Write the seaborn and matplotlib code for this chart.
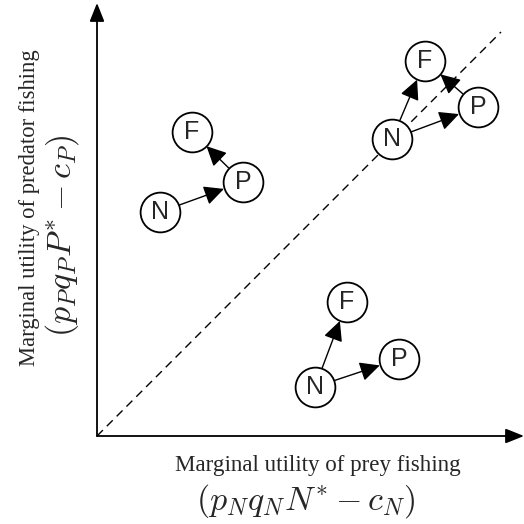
import matplotlib
matplotlib.use("Agg")
import matplotlib.pyplot as plt
import seaborn as sns
import pandas as pd

sns.set_theme(style="white")
plt.rcParams['font.family'] = ['Liberation Serif', 'DejaVu Serif']
plt.rcParams['mathtext.fontset'] = 'cm'

# Node positions (in marginal-utility units; origin at axis corner)
node_labels = ["N", "P", "F", "N", "P", "F", "N", "P", "F"]
node_group = ["A", "A", "A", "B", "B", "B", "C", "C", "C"]
node_x = [63, 146, 95, 295, 381, 328, 218, 302, 250]
node_y = [224, 254, 304, 297, 329, 375, 49, 77, 134]

# Directed edges (by node index)
edge_from = [0, 1, 3, 3, 4, 6, 6]
edge_to = [1, 2, 5, 4, 5, 8, 7]

# diagonal reference line
diag_x = [0, 404]
diag_y = [0, 404]

x_label = "Marginal utility of prey fishing"
x_math = r"$(p_Nq_NN^{*}-c_N)$"
y_label = "Marginal utility of predator fishing"
y_math = r"$(p_Pq_PP^{*}-c_P)$"

nodes = pd.DataFrame({"x": node_x, "y": node_y, "label": node_labels, "group": node_group})

fig = plt.figure(figsize=(5.24, 5.24), dpi=100)
ax = fig.add_axes([0, 0, 1, 1])
ax.set_xlim(-97, 427)
ax.set_ylim(-88, 436)
ax.axis("off")

# dashed diagonal
sns.lineplot(x=diag_x, y=diag_y, ax=ax, color="black", lw=1.0,
             linestyle=(0, (6, 4)), zorder=1)

# axes arrows
ax.annotate("", xy=(427, 0), xytext=(0, 0),
            arrowprops=dict(arrowstyle="-|>,head_length=0.8,head_width=0.32",
                            mutation_scale=14, color="black", lw=1.3,
                            shrinkA=0, shrinkB=0), zorder=2)
ax.annotate("", xy=(0, 433), xytext=(0, 0),
            arrowprops=dict(arrowstyle="-|>,head_length=0.8,head_width=0.32",
                            mutation_scale=14, color="black", lw=1.3,
                            shrinkA=0, shrinkB=0), zorder=2)

# edges
r_pt = 14.6
for a, b in zip(edge_from, edge_to):
    ax.annotate("", xy=(node_x[b], node_y[b]), xytext=(node_x[a], node_y[a]),
                arrowprops=dict(arrowstyle="-|>,head_length=0.55,head_width=0.27",
                                mutation_scale=22, color="black", lw=1.0,
                                shrinkA=r_pt, shrinkB=r_pt), zorder=3)

# nodes
sns.scatterplot(data=nodes, x="x", y="y", ax=ax, s=820, marker="o",
                facecolor="white", edgecolor="black", linewidth=1.3,
                legend=False, zorder=4)
for x, y, t in zip(node_x, node_y, node_labels):
    ax.text(x, y, t, ha="center", va="center", fontsize=18,
            family=["Liberation Sans", "DejaVu Sans"], zorder=5)

# labels
ax.text(221, -35, x_label, ha="center", va="baseline", fontsize=16.6)
ax.text(209, -65, x_math, ha="center", va="center", fontsize=24.5)
ax.text(-67, 228, y_label, ha="center", va="center", rotation=90, fontsize=16.3)
ax.text(-35, 200, y_math, ha="center", va="center", rotation=90, fontsize=24.5)

fig.savefig("out.png", dpi=100)
